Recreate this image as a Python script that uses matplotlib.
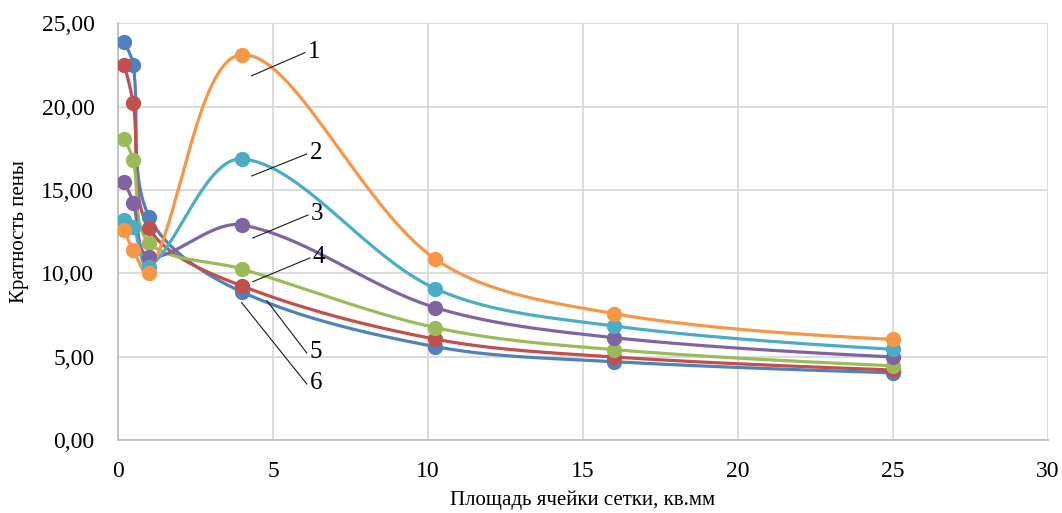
import numpy as np
import matplotlib
matplotlib.use("Agg")
import matplotlib.pyplot as plt

# ---- data ----
x_area = [0.2, 0.49, 1.0, 4.0, 10.24, 16.0, 25.0]
s6_blue = [23.88, 22.5, 13.4, 8.88, 5.6, 4.7, 4.03]
s5_red = [22.5, 20.2, 12.7, 9.24, 6.05, 4.98, 4.2]
s4_green = [18.06, 16.8, 11.84, 10.26, 6.74, 5.42, 4.45]
s3_purple = [15.5, 14.24, 11.0, 12.9, 7.94, 6.14, 4.98]
s2_cyan = [13.2, 12.8, 10.4, 16.86, 9.08, 6.84, 5.44]
s1_orange = [12.6, 11.4, 10.0, 23.12, 10.85, 7.58, 6.03]

series = [s6_blue, s5_red, s4_green, s3_purple, s2_cyan, s1_orange]
colors = ["#4F81BD", "#C0504D", "#9BBB59", "#8064A2", "#4BACC6", "#F79646"]

x_ticks = [0, 5, 10, 15, 20, 25, 30]
y_ticks = [0, 5, 10, 15, 20, 25]
y_ticklabels = ["0,00", "5,00", "10,00", "15,00", "20,00", "25,00"]

labels = ["1", "2", "3", "4", "5", "6"]
# leader line start (x, y), end (x, y) in data units
leader_start = [(4.31, 21.85), (4.31, 15.84), (4.35, 12.12), (4.35, 9.5), (4.8, 8.36), (3.99, 8.24)]
leader_end = [(6.03, 23.24), (6.09, 17.16), (6.13, 13.5), (6.19, 10.92), (6.09, 5.22), (6.09, 3.36)]

W, H = 1062, 513
fig = plt.figure(figsize=(W / 100, H / 100), dpi=100)
ax = fig.add_axes([118 / W, 1 - 440 / H, (1048 - 118) / W, (440 - 23.3) / H])
ax.set_xlim(0, 30)
ax.set_ylim(0, 25)

serif = ["Liberation Serif", "DejaVu Serif"]


def smooth(xs, ys, n=40):
    """Excel-like smoothing: cubic Bezier with chord-length scaled tangents, in display space."""
    pts = ax.transData.transform(np.column_stack([xs, ys]))
    m = len(pts)
    cin = pts.copy()
    cout = pts.copy()
    for i in range(1, m - 1):
        d1 = np.linalg.norm(pts[i] - pts[i - 1])
        d2 = np.linalg.norm(pts[i + 1] - pts[i])
        T = pts[i + 1] - pts[i - 1]
        cin[i] = pts[i] - T * (d1 / (d1 + d2)) / 3.0
        cout[i] = pts[i] + T * (d2 / (d1 + d2)) / 3.0
    cout[0] = pts[0] + (cin[1] - pts[0]) / 3.0 if m > 2 else pts[0]
    cin[-1] = pts[-1] + (cout[-2] - pts[-1]) / 3.0 if m > 2 else pts[-1]
    out = []
    t = np.linspace(0, 1, n)[:, None]
    for i in range(m - 1):
        p1, c1, c2, p2 = pts[i], cout[i], cin[i + 1], pts[i + 1]
        seg = ((1 - t) ** 3) * p1 + 3 * ((1 - t) ** 2) * t * c1 + 3 * (1 - t) * t ** 2 * c2 + t ** 3 * p2
        out.append(seg if i == 0 else seg[1:])
    out = np.vstack(out)
    return ax.transData.inverted().transform(out)


for ys, c in zip(series, colors):
    curve = smooth(x_area, ys)
    ax.plot(curve[:, 0], curve[:, 1], color=c, lw=2.3, solid_capstyle="round", zorder=3)
    ax.plot(x_area, ys, "o", color=c, ms=10, mec=c, zorder=4)

for lab, s, e in zip(labels, leader_start, leader_end):
    ax.plot([s[0], e[0]], [s[1], e[1]], color="#1a1a1a", lw=0.8, zorder=5)
    ax.text(e[0] + 0.1, e[1] + 0.05, lab, family=serif, fontsize=18, ha="left", va="center", zorder=6)

ax.set_xticks(x_ticks)
ax.set_yticks(y_ticks)
ax.set_yticklabels(y_ticklabels)
ax.tick_params(length=0, labelsize=17)
for lbl in ax.get_xticklabels() + ax.get_yticklabels():
    lbl.set_family(serif)
ax.tick_params(axis="x", pad=15)
ax.tick_params(axis="y", pad=17)
ax.grid(True, color="#D9D9D9", lw=1.3)
ax.set_axisbelow(True)
for side in ["top", "right"]:
    ax.spines[side].set_visible(False)
for side in ["left", "bottom"]:
    ax.spines[side].set_color("#BFBFBF")
    ax.spines[side].set_linewidth(1.3)

ax.set_xlabel("Площадь ячейки сетки, кв.мм", family=serif, fontsize=15, labelpad=6)
ax.set_ylabel("Кратность пены", family=serif, fontsize=15, labelpad=9)

fig.savefig("out.png", dpi=100)
